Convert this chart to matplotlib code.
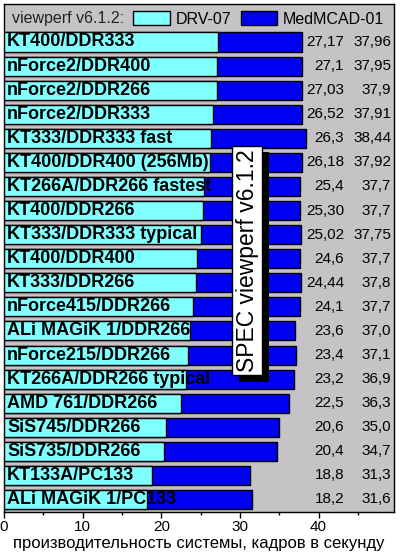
import matplotlib
matplotlib.use("Agg")
import matplotlib.pyplot as plt
from matplotlib.patches import Patch
from matplotlib import patheffects

plt.rcParams['font.family'] = ['Liberation Sans', 'DejaVu Sans']

# data
systems = ["KT400/DDR333", "nForce2/DDR400", "nForce2/DDR266", "nForce2/DDR333",
           "KT333/DDR333 fast", "KT400/DDR400 (256Mb)", "KT266A/DDR266 fastest",
           "KT400/DDR266", "KT333/DDR333 typical", "KT400/DDR400", "KT333/DDR266",
           "nForce415/DDR266", "ALi MAGiK 1/DDR266", "nForce215/DDR266",
           "KT266A/DDR266 typical", "AMD 761/DDR266", "SiS745/DDR266",
           "SiS735/DDR266", "KT133A/PC133", "ALi MAGiK 1/PC133"]
drv07 = [27.17, 27.1, 27.03, 26.52, 26.3, 26.18, 25.4, 25.30, 25.02, 24.6,
         24.44, 24.1, 23.6, 23.4, 23.2, 22.5, 20.6, 20.4, 18.8, 18.2]
medmcad = [37.96, 37.95, 37.9, 37.91, 38.44, 37.92, 37.7, 37.7, 37.75, 37.7,
           37.8, 37.7, 37.0, 37.1, 36.9, 36.3, 35.0, 34.7, 31.3, 31.6]
drv07_txt = ["27,17", "27,1", "27,03", "26,52", "26,3", "26,18", "25,4", "25,30",
             "25,02", "24,6", "24,44", "24,1", "23,6", "23,4", "23,2", "22,5",
             "20,6", "20,4", "18,8", "18,2"]
medmcad_txt = ["37,96", "37,95", "37,9", "37,91", "38,44", "37,92", "37,7", "37,7",
               "37,75", "37,7", "37,8", "37,7", "37,0", "37,1", "36,9", "36,3",
               "35,0", "34,7", "31,3", "31,6"]

cyan = "#80ffff"
blue = "#0000f0"
bg = "#c6c3c6"

fig = plt.figure(figsize=(4, 5.56), dpi=100)
ax = fig.add_axes([0.01, 0.0791, 0.975, 0.9137])
ax.set_facecolor(bg)

ypos = list(range(len(systems)))
ax.barh(ypos, medmcad, height=0.79, color=blue, edgecolor="black", linewidth=1, zorder=2)
ax.barh(ypos, drv07, height=0.79, color=cyan, edgecolor="black", linewidth=1, zorder=3)

for i, name in enumerate(systems):
    ax.text(0.4, i, name, fontsize=13, fontweight="bold", va="center", ha="left",
            color="black", zorder=4)
    ax.text(43.25, i, drv07_txt[i], fontsize=11, va="center", ha="right", zorder=4)
    ax.text(49.25, i, medmcad_txt[i], fontsize=11, va="center", ha="right", zorder=4)

ax.set_xlim(0, 49.6)
ax.set_ylim(19.52, -1.578)

ax.set_xticks([0, 10, 20, 30, 40])
ax.set_xticks([5, 15, 25, 35, 45], minor=True)
ax.tick_params(axis="x", which="major", length=4.5, width=1, pad=1.5, labelsize=11)
ax.tick_params(axis="x", which="minor", length=2, width=1)
ax.set_yticks([])
for s in ax.spines.values():
    s.set_color("black")
    s.set_linewidth(1)

ax.set_xlabel("производительность системы, кадров в секунду", fontsize=12, labelpad=1)

# header row legend
ax.text(0.02, 0.9705, "viewperf v6.1.2:", transform=ax.transAxes, fontsize=11.5,
        va="center", ha="left", color="#222222")
handles = [Patch(facecolor=cyan, edgecolor="black", linewidth=1),
           Patch(facecolor=blue, edgecolor="black", linewidth=1)]
ax.legend(handles, ["DRV-07", "MedMCAD-01"], ncol=2, loc="center left",
          bbox_to_anchor=(0.331, 0.9705), frameon=False, fontsize=11.5,
          handlelength=2.3, handleheight=0.9, handletextpad=0.35,
          columnspacing=0.6, borderpad=0, borderaxespad=0)

# vertical caption box with shadow
t = ax.text(0.624, 0.495, "SPEC viewperf v6.1.2", transform=ax.transAxes,
            rotation=90, fontsize=16.5, ha="center", va="center", zorder=6,
            bbox=dict(boxstyle="square,pad=0.15", facecolor="white",
                      edgecolor="black", linewidth=1))
fig.canvas.draw()
t.get_bbox_patch().set_path_effects([
    patheffects.SimplePatchShadow(offset=(4.5, -4.5), shadow_rgbFace="black", alpha=1),
    patheffects.Normal()])

fig.savefig("out.png", dpi=100)
